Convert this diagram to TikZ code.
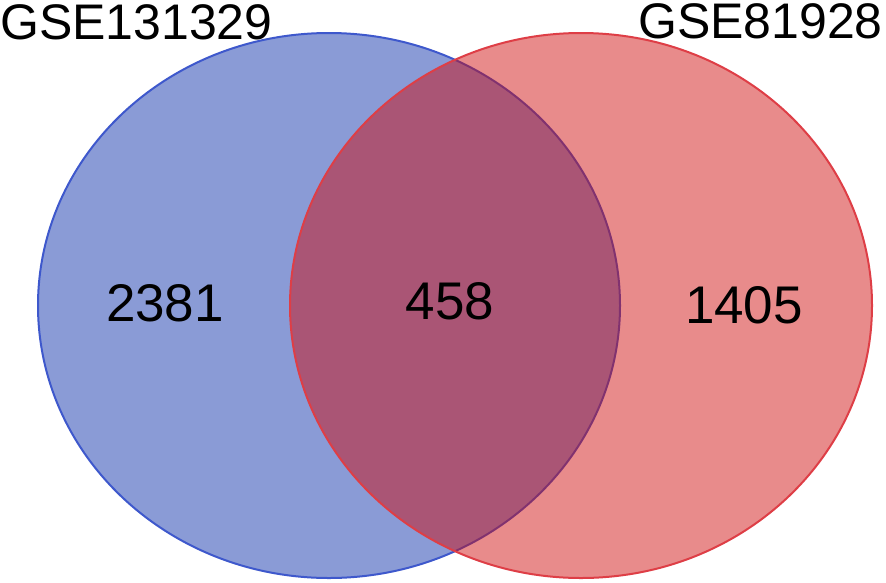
\documentclass[tikz,border=0pt]{standalone}
\usepackage{fontspec}
\setmainfont{Liberation Sans}
\usetikzlibrary{positioning}

\definecolor{setblue}{RGB}{138,155,214}
\definecolor{setblueline}{RGB}{62,88,204}
\definecolor{setred}{RGB}{206,8,8}
\definecolor{setredline}{RGB}{222,62,70}

\begin{document}
\begin{tikzpicture}[
    x=1pt, y=-1pt,
    leftset/.style={fill=setblue, draw=setblueline, line width=2pt},
    rightset/.style={fill=setred, fill opacity=0.47, draw=setredline, draw opacity=1, line width=2pt},
    setname/.style={font=\fontsize{50}{60}\selectfont, inner sep=0pt},
    count/.style={font=\fontsize{53}{62}\selectfont, inner sep=0pt, anchor=base},
]
  \useasboundingbox (0,0) rectangle (886,582);

  \draw[leftset] (329,305.5) ellipse [x radius=291, y radius=272.5];
  \draw[rightset] (581,305.5) ellipse [x radius=291, y radius=272.5];

  \node[setname, anchor=base west] (nameA) at (0,39) {GSE131329};
  \node[setname, anchor=base east] (nameB) at (883,38) {GSE81928};

  \node[count] (onlyA) at (165,321) {2381};
  \node[count] (both) at (450,319) {458};
  \node[count] (onlyB) at (744,323) {1405};
\end{tikzpicture}
\end{document}
